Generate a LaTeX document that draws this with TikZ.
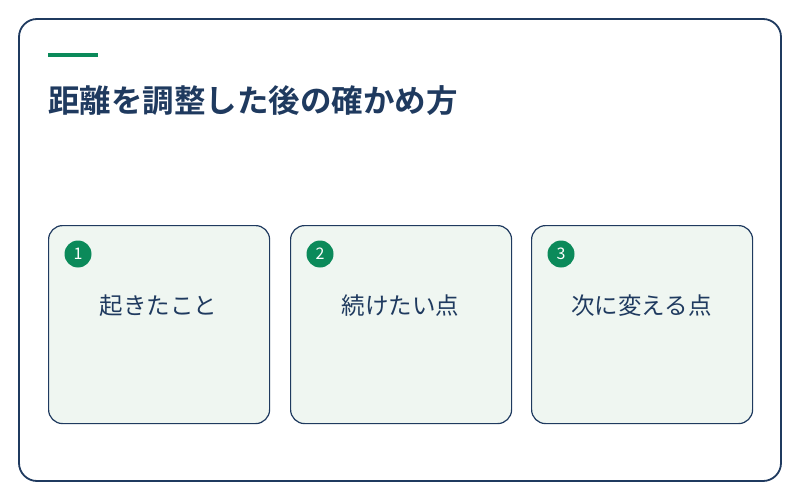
\documentclass[tikz,border=0pt]{standalone}
\usepackage{fontspec}
\newfontfamily\cjk{Noto Sans CJK JP}
\newfontfamily\cjkb{Noto Sans CJK JP Bold}
\definecolor{navy}{HTML}{1F3A5F}
\definecolor{grn}{HTML}{0B8A5A}
\definecolor{cardbg}{HTML}{EFF6F1}
\begin{document}
\begin{tikzpicture}[x=1pt,y=-1pt,
  card/.style={draw=navy,line width=1.2pt,fill=cardbg,rounded corners=14pt,minimum width=221pt,minimum height=198pt,anchor=north west},
  num/.style={circle,fill=grn,minimum size=27pt,inner sep=0pt,text=white,font=\cjk\fontsize{16}{16}\selectfont},
  lab/.style={text=navy,font=\cjk\fontsize{23.5}{26}\selectfont}]
\useasboundingbox (0,0) rectangle (800,500);
\draw[navy,line width=1.8pt,rounded corners=18pt,fill=white] (19,19) rectangle (781,481);
\fill[grn] (48,53) rectangle (98,57);
\node[anchor=west,text=navy,font=\cjkb\fontsize{31.5}{34}\selectfont,inner sep=0pt] (title) at (48,101) {距離を調整した後の確かめ方};
\foreach \i/\x/\t in {1/48/起きたこと,2/290/続けたい点,3/531/次に変える点}{
  \node[card] (c\i) at (\x,225) {};
  \node[num] (n\i) at (\x+30,254) {\i};
  \node[lab] (l\i) at (\x+110.5,306) {\t};
}
\end{tikzpicture}
\end{document}
